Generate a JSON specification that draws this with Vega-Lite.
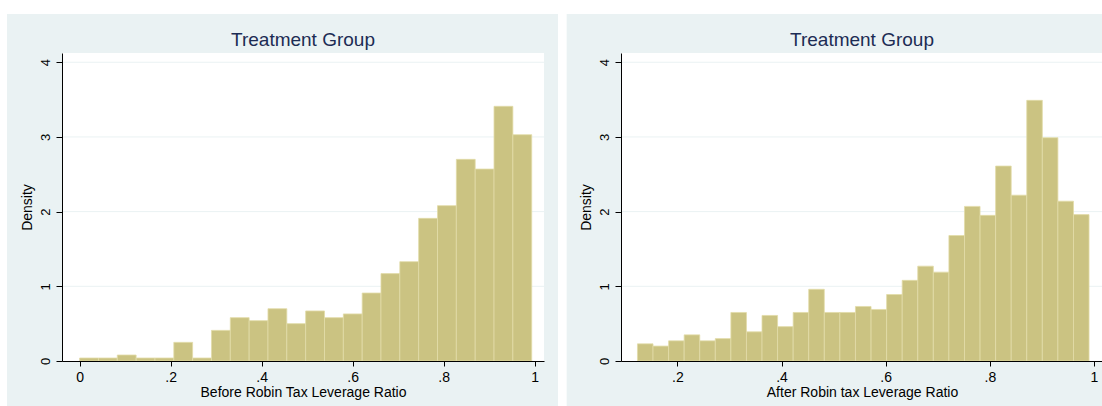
{
  "$schema": "https://vega.github.io/schema/vega-lite/v6.json",
  "background": "white",
  "padding": {"left": 7, "top": 13, "right": 0, "bottom": 0},
  "autosize": {"type": "pad"},
  "spacing": 7,
  "config": {
    "view": {"stroke": null},
    "font": "Liberation Sans",
    "axis": {
      "grid": false,
      "domainColor": "#000000",
      "domainWidth": 1,
      "tickColor": "#000000",
      "tickWidth": 1,
      "labelColor": "#000000",
      "titleColor": "#000000",
      "titleFontWeight": "normal",
      "labelFont": "Liberation Sans",
      "titleFont": "Liberation Sans",
      "labelFlush": false,
      "labelOverlap": false
    },
    "axisX": {"tickSize": 5, "labelFontSize": 14, "labelPadding": 4, "titleFontSize": 14, "titlePadding": 1},
    "axisY": {"tickSize": 6, "labelFontSize": 13, "labelAngle": 270, "labelPadding": 4, "titleFontSize": 14, "titlePadding": 5},
    "title": {"fontSize": 19, "fontWeight": "normal", "color": "#1c2c54", "font": "Liberation Sans", "anchor": "middle", "frame": "group", "offset": -36, "zindex": 1}
  },
  "datasets": {
    "before": [
      {"lo": 0.0000, "hi": 0.0414, "density": 0.04},
      {"lo": 0.0414, "hi": 0.0828, "density": 0.04},
      {"lo": 0.0828, "hi": 0.1242, "density": 0.08},
      {"lo": 0.1242, "hi": 0.1656, "density": 0.04},
      {"lo": 0.1656, "hi": 0.2070, "density": 0.04},
      {"lo": 0.2070, "hi": 0.2483, "density": 0.25},
      {"lo": 0.2483, "hi": 0.2897, "density": 0.04},
      {"lo": 0.2897, "hi": 0.3311, "density": 0.41},
      {"lo": 0.3311, "hi": 0.3725, "density": 0.58},
      {"lo": 0.3725, "hi": 0.4139, "density": 0.54},
      {"lo": 0.4139, "hi": 0.4553, "density": 0.70},
      {"lo": 0.4553, "hi": 0.4967, "density": 0.50},
      {"lo": 0.4967, "hi": 0.5381, "density": 0.67},
      {"lo": 0.5381, "hi": 0.5795, "density": 0.58},
      {"lo": 0.5795, "hi": 0.6209, "density": 0.63},
      {"lo": 0.6209, "hi": 0.6622, "density": 0.91},
      {"lo": 0.6622, "hi": 0.7036, "density": 1.17},
      {"lo": 0.7036, "hi": 0.7450, "density": 1.33},
      {"lo": 0.7450, "hi": 0.7864, "density": 1.91},
      {"lo": 0.7864, "hi": 0.8278, "density": 2.08},
      {"lo": 0.8278, "hi": 0.8692, "density": 2.70},
      {"lo": 0.8692, "hi": 0.9106, "density": 2.57},
      {"lo": 0.9106, "hi": 0.9520, "density": 3.41},
      {"lo": 0.9520, "hi": 0.9934, "density": 3.03}
    ],
    "after": [
      {"lo": 0.1233, "hi": 0.1532, "density": 0.23},
      {"lo": 0.1532, "hi": 0.1831, "density": 0.20},
      {"lo": 0.1831, "hi": 0.2130, "density": 0.27},
      {"lo": 0.2130, "hi": 0.2429, "density": 0.35},
      {"lo": 0.2429, "hi": 0.2728, "density": 0.27},
      {"lo": 0.2728, "hi": 0.3027, "density": 0.30},
      {"lo": 0.3027, "hi": 0.3326, "density": 0.65},
      {"lo": 0.3326, "hi": 0.3625, "density": 0.39},
      {"lo": 0.3625, "hi": 0.3924, "density": 0.61},
      {"lo": 0.3924, "hi": 0.4223, "density": 0.46},
      {"lo": 0.4223, "hi": 0.4522, "density": 0.65},
      {"lo": 0.4522, "hi": 0.4821, "density": 0.96},
      {"lo": 0.4821, "hi": 0.5120, "density": 0.65},
      {"lo": 0.5120, "hi": 0.5419, "density": 0.65},
      {"lo": 0.5419, "hi": 0.5719, "density": 0.73},
      {"lo": 0.5719, "hi": 0.6018, "density": 0.69},
      {"lo": 0.6018, "hi": 0.6317, "density": 0.89},
      {"lo": 0.6317, "hi": 0.6616, "density": 1.08},
      {"lo": 0.6616, "hi": 0.6915, "density": 1.27},
      {"lo": 0.6915, "hi": 0.7214, "density": 1.19},
      {"lo": 0.7214, "hi": 0.7513, "density": 1.68},
      {"lo": 0.7513, "hi": 0.7812, "density": 2.07},
      {"lo": 0.7812, "hi": 0.8111, "density": 1.95},
      {"lo": 0.8111, "hi": 0.8410, "density": 2.61},
      {"lo": 0.8410, "hi": 0.8709, "density": 2.22},
      {"lo": 0.8709, "hi": 0.9008, "density": 3.49},
      {"lo": 0.9008, "hi": 0.9307, "density": 2.99},
      {"lo": 0.9307, "hi": 0.9606, "density": 2.14},
      {"lo": 0.9606, "hi": 0.9905, "density": 1.96}
    ],
    "gridlines": [{"g": 1}, {"g": 2}, {"g": 3}, {"g": 4}],
    "one": [{}]
  },
  "hconcat": [
    {
      "width": 482,
      "height": 308,
      "title": "Treatment Group",
      "layer": [
        {
          "data": {"name": "one"},
          "mark": {"type": "rect", "fill": "#EAF2F3"},
          "encoding": {
            "x": {"datum": -0.1595, "type": "quantitative", "title": "Before Robin Tax Leverage Ratio",
                  "scale": {"domain": [-0.0387, 1.0204], "nice": false, "zero": false}},
            "x2": {"datum": 1.0512},
            "y": {"datum": -0.616, "type": "quantitative", "title": "Density",
                  "scale": {"domain": [0, 4.124], "nice": false, "zero": false}},
            "y2": {"datum": 4.6465}
          }
        },
        {
          "data": {"name": "one"},
          "mark": {"type": "rect", "fill": "#ffffff"},
          "encoding": {
            "x": {"datum": -0.0387, "type": "quantitative", "title": "Before Robin Tax Leverage Ratio"},
            "x2": {"datum": 1.0204},
            "y": {"datum": 0, "type": "quantitative", "title": "Density"},
            "y2": {"datum": 4.124}
          }
        },
        {
          "data": {"name": "gridlines"},
          "mark": {"type": "rule", "stroke": "#EAF2F3", "strokeWidth": 1},
          "encoding": {"y": {"field": "g", "type": "quantitative", "title": "Density"}}
        },
        {
          "data": {"name": "before"},
          "mark": {"type": "rect", "fill": "#CBC382", "stroke": "#E2DCA8", "strokeWidth": 0.8},
          "encoding": {
            "x": {"field": "lo", "type": "quantitative", "title": "Before Robin Tax Leverage Ratio",
                  "axis": {"values": [0, 0.2, 0.4, 0.6, 0.8, 1], "zindex": 1,
                           "labelExpr": "datum.value == 0 ? '0' : datum.value == 1 ? '1' : '.' + format(datum.value * 10, '.0f')"}},
            "x2": {"field": "hi"},
            "y": {"field": "density", "type": "quantitative", "title": "Density",
                  "axis": {"values": [0, 1, 2, 3, 4], "format": "d", "zindex": 1}},
            "y2": {"datum": 0}
          }
        }
      ]
    },
    {
      "width": 482,
      "height": 308,
      "title": "Treatment Group",
      "layer": [
        {
          "data": {"name": "one"},
          "mark": {"type": "rect", "fill": "#EAF2F3"},
          "encoding": {
            "x": {"datum": -0.0126, "type": "quantitative", "title": "After Robin tax Leverage Ratio",
                  "scale": {"domain": [0.0917, 1.0173], "nice": false, "zero": false}},
            "x2": {"datum": 1.018},
            "y": {"datum": -0.616, "type": "quantitative", "title": "Density",
                  "scale": {"domain": [0, 4.124], "nice": false, "zero": false}},
            "y2": {"datum": 4.6465}
          }
        },
        {
          "data": {"name": "one"},
          "mark": {"type": "rect", "fill": "#ffffff"},
          "encoding": {
            "x": {"datum": 0.0917, "type": "quantitative", "title": "After Robin tax Leverage Ratio"},
            "x2": {"datum": 1.0173},
            "y": {"datum": 0, "type": "quantitative", "title": "Density"},
            "y2": {"datum": 4.124}
          }
        },
        {
          "data": {"name": "gridlines"},
          "mark": {"type": "rule", "stroke": "#EAF2F3", "strokeWidth": 1},
          "encoding": {"y": {"field": "g", "type": "quantitative", "title": "Density"}}
        },
        {
          "data": {"name": "after"},
          "mark": {"type": "rect", "fill": "#CBC382", "stroke": "#E2DCA8", "strokeWidth": 0.8},
          "encoding": {
            "x": {"field": "lo", "type": "quantitative", "title": "After Robin tax Leverage Ratio",
                  "axis": {"values": [0.2, 0.4, 0.6, 0.8, 1], "zindex": 1,
                           "labelExpr": "datum.value == 1 ? '1' : '.' + format(datum.value * 10, '.0f')"}},
            "x2": {"field": "hi"},
            "y": {"field": "density", "type": "quantitative", "title": "Density",
                  "axis": {"values": [0, 1, 2, 3, 4], "format": "d", "zindex": 1}},
            "y2": {"datum": 0}
          }
        }
      ]
    }
  ]
}
